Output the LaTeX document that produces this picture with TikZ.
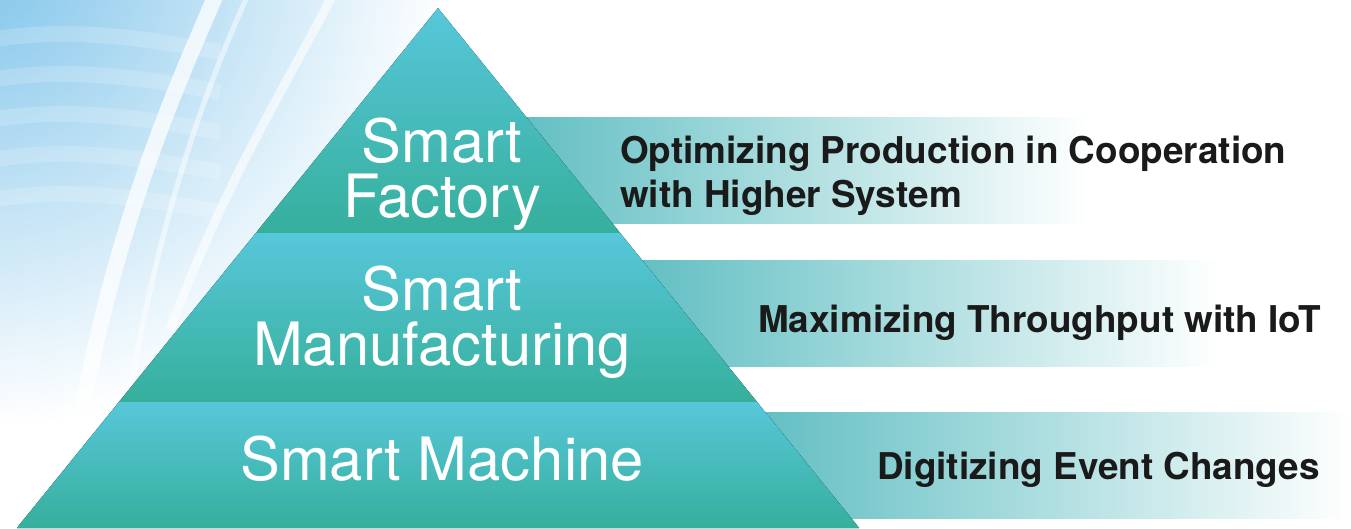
\documentclass[tikz,border=0pt]{standalone}
\usepackage{fontspec}
\setmainfont{TeX Gyre Heros}
\usetikzlibrary{calc,shadings}
\definecolor{pyrTop}{HTML}{57C7DA}
\definecolor{pyrBottom}{HTML}{36AF9C}
\definecolor{band}{HTML}{62BFC3}
\definecolor{sky}{HTML}{7DC3EA}
\definecolor{ink}{HTML}{1A1A1A}
\tikzset{
  pyrLayer/.style={top color=pyrTop, bottom color=pyrBottom},
  bandFill/.style={left color=band, right color=white},
  skyStreak/.style={draw=white},
  layerLabel/.style={text=white, font=\fontsize{34}{31}\selectfont, align=center},
  bandLabel/.style={text=ink, font=\bfseries\fontsize{21}{25}\selectfont, align=left}
}

\begin{document}
\begin{tikzpicture}[x=0.02cm, y=-0.02cm]
  \useasboundingbox (0,0) rectangle (1351,528);

  % sky in the upper left corner
  \begin{scope}
    \clip (0,0) rectangle (1351,528);
    \shade[inner color=sky, outer color=white] (-30,-50) circle (480);
    \foreach \y in {40,80,120,160,200}
      \draw[skyStreak, opacity=0.18, line width=9] (-10,\y) .. controls (60,\y-12) and (130,\y-5) .. (220,\y+12);
    \draw[skyStreak, opacity=0.75, line width=9] (218,-10) .. controls (175,90) and (120,210) .. (80,420);
    \draw[skyStreak, opacity=0.5, line width=3] (250,-10) .. controls (205,90) and (160,210) .. (125,420);
    \draw[skyStreak, opacity=0.6, line width=5] (335,-10) .. controls (290,80) and (230,170) .. (170,330);
  \end{scope}

  % bands behind the pyramid
  \fill[bandFill] (520,117) rectangle (1090,223);
  \fill[bandFill] (640,260) rectangle (1220,366);
  \fill[bandFill] (760,412) rectangle (1351,518);

  % pyramid
  \coordinate (apex) at (438,8);
  \coordinate (l1) at (255.8,233);
  \coordinate (r1) at (620.2,233);
  \coordinate (l2) at (118.9,402);
  \coordinate (r2) at (757.1,402);
  \coordinate (l3) at (16.8,528);
  \coordinate (r3) at (859.2,528);

  \fill[pyrLayer] (apex) -- (r1) -- (l1) -- cycle;
  \fill[pyrLayer] (l1) -- (r1) -- (r2) -- (l2) -- cycle;
  \fill[pyrLayer] (l2) -- (r2) -- (r3) -- (l3) -- cycle;

  \node[layerLabel] (factory) at (442,174) {Smart\\Factory};
  \node[layerLabel] (manufacturing) at (442,322) {Smart\\Manufacturing};
  \node[layerLabel] (machine) at (442,459) {Smart Machine};

  \node[bandLabel, anchor=west] (factoryNote) at (614,176)
    {Optimizing Production in Cooperation\\with Higher System};
  \node[bandLabel, anchor=base west] (manufNote) at (752,332) {Maximizing Throughput with IoT};
  \node[bandLabel, anchor=base west] (machineNote) at (871,479) {Digitizing Event Changes};
\end{tikzpicture}
\end{document}
